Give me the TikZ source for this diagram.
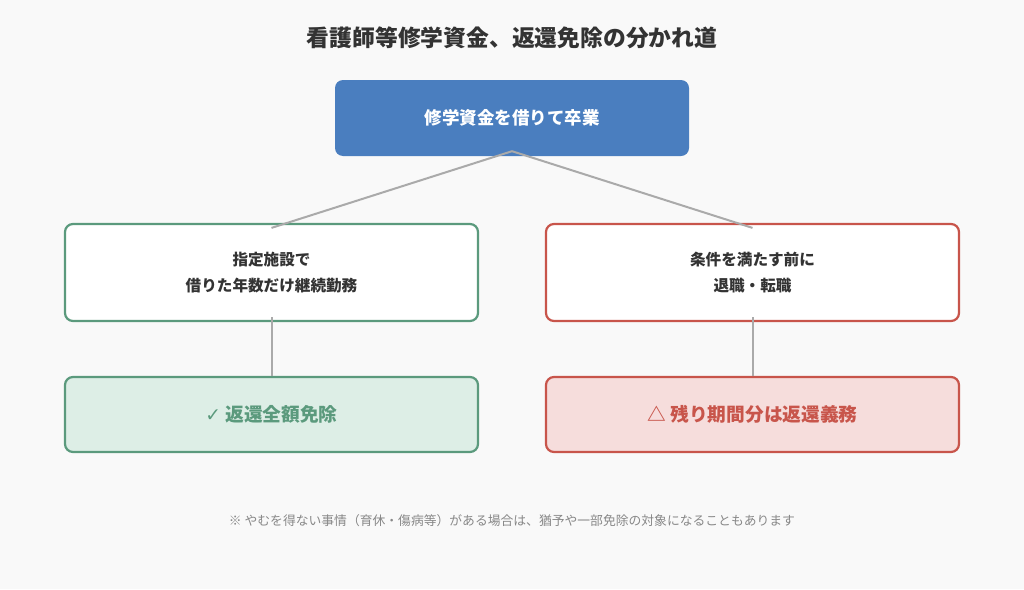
\documentclass[tikz,border=0pt]{standalone}
\usepackage{fontspec}
\setmainfont{Noto Sans CJK JP}
\newfontfamily\symfont{DejaVu Sans}
\usetikzlibrary{calc}
\definecolor{bgc}{HTML}{F9F9F9}
\definecolor{bluef}{HTML}{4A7EBF}
\definecolor{greenb}{HTML}{5B9A7D}
\definecolor{greenf}{HTML}{DDEEE6}
\definecolor{redb}{HTML}{C8554B}
\definecolor{redf}{HTML}{F6DDDC}
\definecolor{linec}{HTML}{AAAAAA}
\definecolor{textc}{HTML}{333333}
\definecolor{notec}{HTML}{888888}
\tikzset{
  boxbase/.style={rounded corners=8pt, minimum height=76pt, align=center, inner sep=0pt},
  topbox/.style={boxbase, fill=bluef, draw=none, text=white, minimum width=354pt, minimum height=76pt, font=\fontsize{17.5}{20}\selectfont\bfseries},
  midgreen/.style={boxbase, fill=white, draw=greenb, line width=2.2pt, minimum width=413pt, minimum height=97pt, text=textc, font=\fontsize{15.6}{26}\selectfont\bfseries},
  midred/.style={midgreen, draw=redb},
  okbox/.style={boxbase, fill=greenf, draw=greenb, line width=2.2pt, minimum width=413pt, minimum height=75pt, text=greenb, font=\fontsize{18.7}{22}\selectfont\bfseries},
  ngbox/.style={okbox, fill=redf, draw=redb, text=redb},
  conn/.style={draw=linec, line width=2pt},
}
\begin{document}
\begin{tikzpicture}[x=1pt,y=-1pt]
\fill[bgc] (0,0) rectangle (1024,589);
\useasboundingbox (0,0) rectangle (1024,589);
\node[text=textc, font=\fontsize{22.8}{26}\selectfont\bfseries] (title) at (512,38) {看護師等修学資金、返還免除の分かれ道};
\node[topbox] (top) at (512,118) {修学資金を借りて卒業};
\node[midgreen] (L) at (271.5,272.5) {指定施設で\\借りた年数だけ継続勤務};
\node[midred] (R) at (752.5,272.5) {条件を満たす前に\\退職・転職};
\node[okbox] (LB) at (271.5,414.5) {{\symfont ✓} 返還全額免除};
\node[ngbox] (RB) at (752.5,414.5) {△ 残り期間分は返還義務};
\coordinate (topc) at ($(top.south)+(0,-5)$);
\draw[conn] (topc) -- ($(L.north)+(0,5)$);
\draw[conn] (topc) -- ($(R.north)+(0,5)$);
\draw[conn] ($(L.south)+(0,-5)$) -- (LB.north);
\draw[conn] ($(R.south)+(0,-5)$) -- (RB.north);
\node[text=notec, font=\fontsize{12.8}{15}\selectfont] (note) at (512,521) {※ やむを得ない事情（育休・傷病等）がある場合は、猶予や一部免除の対象になることもあります};
\end{tikzpicture}
\end{document}
